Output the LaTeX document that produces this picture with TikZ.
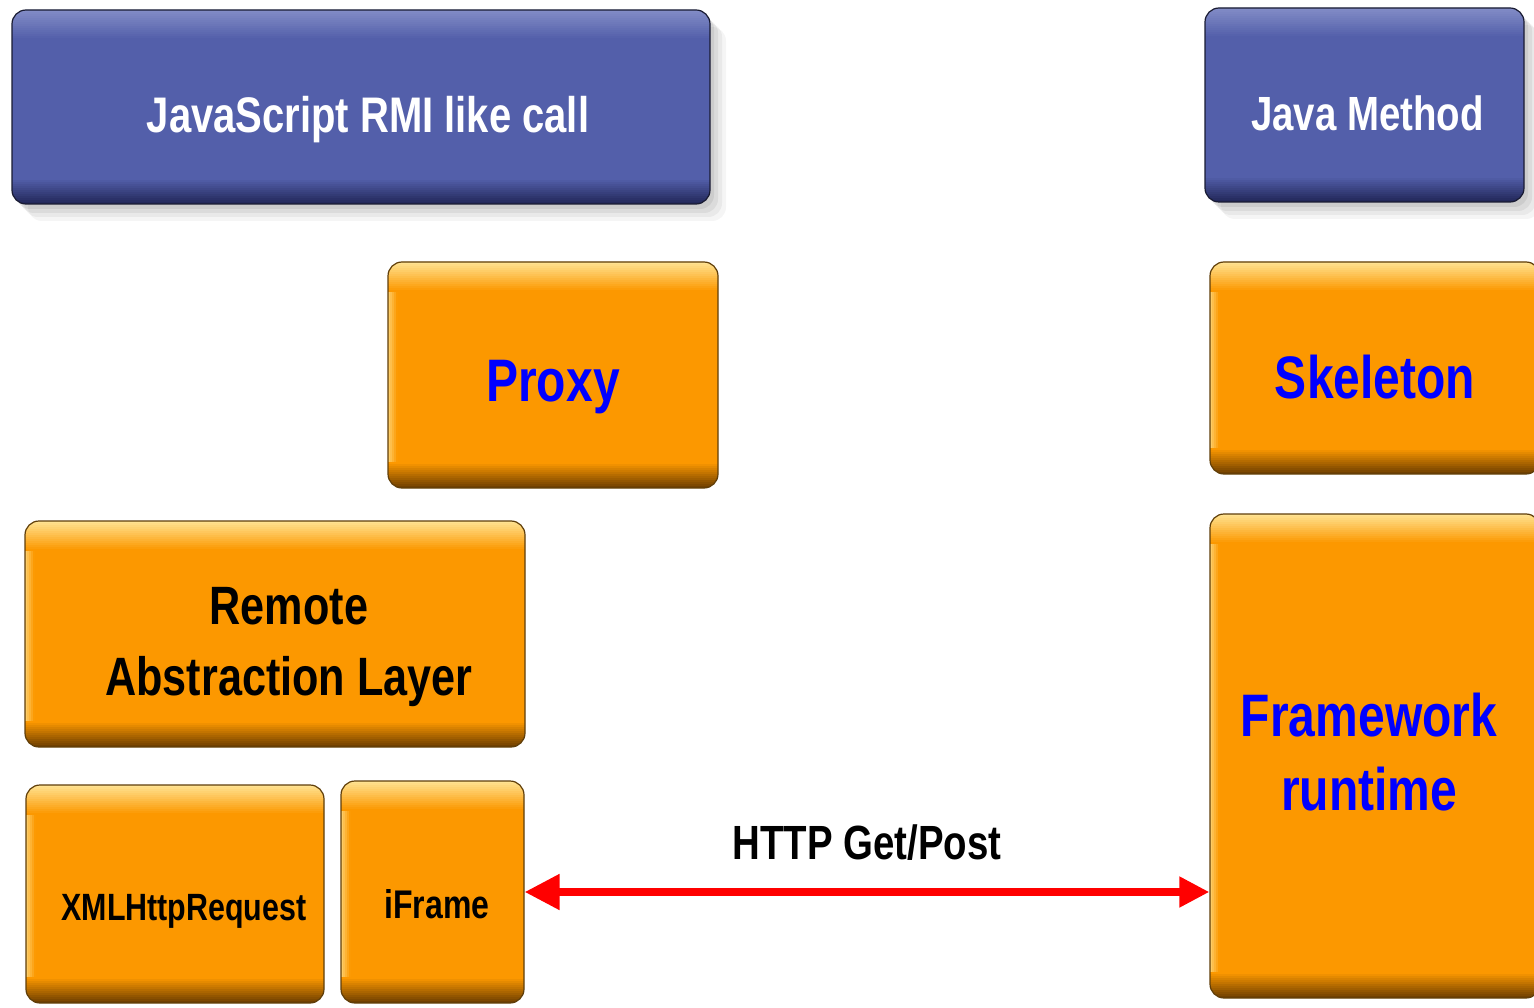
\documentclass[tikz,border=0pt]{standalone}
\usepackage{fontspec}
\setmainfont{Liberation Sans}[FakeStretch=0.8]
\usetikzlibrary{arrows.meta,shadows}

% ----- colors -----
\definecolor{boxorange}{RGB}{252,152,0}
\definecolor{glossorange}{RGB}{255,226,145}
\definecolor{boxdark}{RGB}{112,64,0}
\definecolor{boxedge}{RGB}{95,62,10}
\definecolor{boxblue}{RGB}{83,95,170}
\definecolor{glossblue}{RGB}{130,140,198}
\definecolor{bluedark}{RGB}{35,40,90}
\definecolor{blueedge}{RGB}{25,27,50}
\definecolor{txtblue}{RGB}{0,0,255}

% gloss bands, built from thin strips: #1 top colour, #2 body, #3 bottom colour
\newcommand{\glossbands}[3]{%
  \foreach \i in {0,...,14}{
    \pgfmathsetmacro\ya{-2*\i}
    \pgfmathsetmacro\yb{-2*\i-2.4}
    \pgfmathtruncatemacro\pct{100-\i*100/14}
    \fill[sharp corners,#1!\pct!#2]
      ([yshift=\ya pt]path picture bounding box.north west) rectangle
      ([yshift=\yb pt]path picture bounding box.north east);
  }
  \foreach \i in {0,...,12}{
    \pgfmathsetmacro\ya{2*\i}
    \pgfmathsetmacro\yb{2*\i+2.4}
    \pgfmathtruncatemacro\pct{100-\i*100/12}
    \fill[sharp corners,#3!\pct!#2]
      ([yshift=\ya pt]path picture bounding box.south west) rectangle
      ([yshift=\yb pt]path picture bounding box.south east);
  }}

\begin{document}
\begin{tikzpicture}[x=1pt,y=-1pt,line cap=round,line join=round]
  % ----- styles -----
  \tikzset{
    block/.style={rectangle,rounded corners=14pt,line width=1.2pt,inner sep=0pt},
    orangebox/.style={block,draw=boxedge,fill=boxorange,
      path picture={
        \foreach \i in {0,...,4}{
          \pgfmathtruncatemacro\pct{70-\i*17}
          \fill[sharp corners,glossorange!\pct!boxorange]
            ([xshift=2*\i pt]path picture bounding box.north west) rectangle
            ([xshift=2*\i pt+2.4pt]path picture bounding box.south west);
        }
        \glossbands{glossorange}{boxorange}{boxdark}
      }},
    bluebox/.style={block,draw=blueedge,fill=boxblue,
      drop shadow={shadow xshift=4pt,shadow yshift=-5pt,opacity=.07,fill=black},
      drop shadow={shadow xshift=8pt,shadow yshift=-9pt,opacity=.06,fill=black},
      drop shadow={shadow xshift=12pt,shadow yshift=-13pt,opacity=.05,fill=black},
      drop shadow={shadow xshift=16pt,shadow yshift=-17pt,opacity=.04,fill=black},
      path picture={\glossbands{glossblue}{boxblue}{bluedark}}},
    txt/.style={font=\bfseries,align=center},
    httparrow/.style={draw=red,line width=8pt,line cap=butt,
      {Triangle[length=35pt,width=34pt]}-{Triangle[length=30pt,width=29pt]}}
  }

  \clip (0,0) rectangle (1534,1008);

  % ----- top row: call and method -----
  \node[bluebox,minimum width=698pt,minimum height=194pt] (jscall) at (361,107)
    [label={[name=jscalltxt,txt,text=white,font=\bfseries\fontsize{50}{60}\selectfont,xshift=7pt,yshift=-13pt]center:JavaScript RMI like call}] {};
  \node[bluebox,minimum width=319pt,minimum height=194pt] (javamethod) at (1364.5,105)
    [label={[name=javamethodtxt,txt,text=white,font=\bfseries\fontsize{48}{58}\selectfont,xshift=3pt,yshift=-8.5pt]center:Java Method}] {};

  % ----- proxy / skeleton -----
  \node[orangebox,minimum width=330pt,minimum height=226pt] (proxy) at (553,375)
    [label={[name=proxytxt,txt,text=txtblue,font=\bfseries\fontsize{60}{72}\selectfont,yshift=-12.5pt]center:Proxy}] {};
  \node[orangebox,minimum width=330pt,minimum height=212pt] (skeleton) at (1375,368)
    [label={[name=skeletontxt,txt,text=txtblue,font=\bfseries\fontsize{60}{72}\selectfont,yshift=-9.5pt]center:Skeleton}] {};

  % ----- client side layers -----
  \node[orangebox,minimum width=500pt,minimum height=226pt] (remote) at (275,634)
    [label={[name=remotetxt,txt,font=\bfseries\fontsize{54}{71}\selectfont,xshift=14pt,yshift=-13pt]center:Remote\\Abstraction Layer}] {};
  \node[orangebox,minimum width=298pt,minimum height=218pt] (xhr) at (175,894)
    [label={[name=xhrtxt,txt,font=\bfseries\fontsize{38}{46}\selectfont,xshift=9pt,yshift=-17pt]center:XMLHttpRequest}] {};
  \node[orangebox,minimum width=183pt,minimum height=222pt] (iframe) at (432.5,892)
    [label={[name=iframetxt,txt,font=\bfseries\fontsize{40}{48}\selectfont,xshift=4.5pt,yshift=-12pt]center:iFrame}] {};

  % ----- server side runtime -----
  \node[orangebox,minimum width=330pt,minimum height=484pt] (framework) at (1375,756)
    [label={[name=frameworktxt,txt,text=txtblue,font=\bfseries\fontsize{60}{74}\selectfont,xshift=-6pt,yshift=4pt]center:Framework\\runtime}] {};

  % ----- transport -----
  \draw[httparrow] (iframe.east) -- (iframe.east -| framework.west)
    node[midway,txt,font=\bfseries\fontsize{48}{58}\selectfont,yshift=49pt] (http) {HTTP Get/Post};

\end{tikzpicture}
\end{document}
